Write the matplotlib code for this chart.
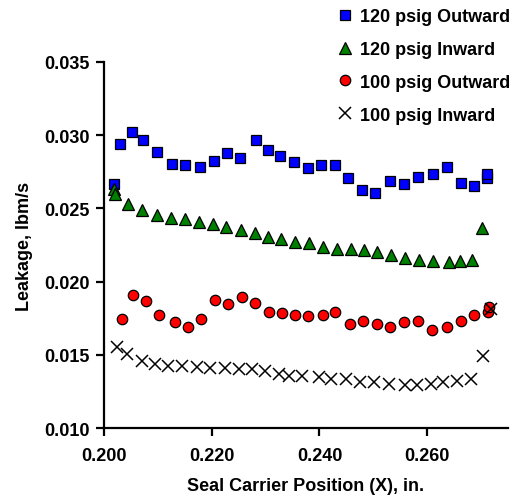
import numpy as np
import matplotlib
matplotlib.use("Agg")
import matplotlib.pyplot as plt

plt.rcParams['font.family'] = ['Liberation Sans', 'DejaVu Sans']
plt.rcParams['font.weight'] = 'bold'

#-------------------------------------------------#
#   data
#-------------------------------------------------#
x_out120 = [0.20192, 0.20303, 0.20527, 0.20720, 0.20980, 0.21260, 0.21501, 0.21773,
            0.22033, 0.22283, 0.22530, 0.22822, 0.23038, 0.23274, 0.23522, 0.23782,
            0.24032, 0.24285, 0.24534, 0.24781, 0.25029, 0.25308, 0.25563, 0.25836,
            0.26115, 0.26363, 0.26623, 0.26871, 0.27107, 0.27107]
y_out120 = [0.02666, 0.02939, 0.03023, 0.02969, 0.02887, 0.02805, 0.02794, 0.02784,
            0.02825, 0.02876, 0.02846, 0.02969, 0.02896, 0.02855, 0.02814, 0.02776,
            0.02796, 0.02796, 0.02705, 0.02625, 0.02603, 0.02685, 0.02666, 0.02712,
            0.02735, 0.02784, 0.02673, 0.02651, 0.02707, 0.02735]

x_in120 = [0.20177, 0.20205, 0.20452, 0.20713, 0.20986, 0.21241, 0.21507, 0.21767,
           0.22015, 0.22270, 0.22543, 0.22796, 0.23046, 0.23293, 0.23540, 0.23801,
           0.24069, 0.24329, 0.24577, 0.24824, 0.25073, 0.25327, 0.25581, 0.25847,
           0.26102, 0.26409, 0.26610, 0.26828, 0.27023]
y_in120 = [0.02632, 0.02598, 0.02530, 0.02489, 0.02455, 0.02437, 0.02426, 0.02407,
           0.02391, 0.02375, 0.02355, 0.02332, 0.02305, 0.02291, 0.02273, 0.02264,
           0.02235, 0.02223, 0.02223, 0.02213, 0.02200, 0.02182, 0.02163, 0.02150,
           0.02139, 0.02132, 0.02141, 0.02151, 0.02366]

x_out100 = [0.20340, 0.20534, 0.20776, 0.21029, 0.21327, 0.21563, 0.21810, 0.22060,
            0.22307, 0.22554, 0.22809, 0.23057, 0.23306, 0.23540, 0.23786, 0.24061,
            0.24285, 0.24562, 0.24813, 0.25060, 0.25315, 0.25567, 0.25838, 0.26097,
            0.26376, 0.26620, 0.26871, 0.27120, 0.27150]
y_out100 = [0.01743, 0.01909, 0.01866, 0.01775, 0.01725, 0.01691, 0.01743, 0.01875,
            0.01846, 0.01898, 0.01857, 0.01795, 0.01786, 0.01775, 0.01763, 0.01775,
            0.01795, 0.01713, 0.01733, 0.01713, 0.01692, 0.01724, 0.01733, 0.01672,
            0.01692, 0.01733, 0.01775, 0.01795, 0.01825]

x_in100 = [0.20236, 0.20434, 0.20701, 0.20949, 0.21196, 0.21457, 0.21725, 0.21972,
           0.22251, 0.22512, 0.22748, 0.22995, 0.23243, 0.23442, 0.23678, 0.23987,
           0.24205, 0.24484, 0.24750, 0.25010, 0.25289, 0.25581, 0.25818, 0.26078,
           0.26301, 0.26562, 0.26809, 0.27027, 0.27181]
y_in100 = [0.01557, 0.01505, 0.01459, 0.01439, 0.01427, 0.01427, 0.01418, 0.01413,
           0.01409, 0.01404, 0.01404, 0.01393, 0.01370, 0.01360, 0.01355, 0.01348,
           0.01336, 0.01336, 0.01318, 0.01314, 0.01300, 0.01293, 0.01293, 0.01300,
           0.01314, 0.01323, 0.01336, 0.01491, 0.01814]

labels = ['120 psig Outward', '120 psig Inward', '100 psig Outward', '100 psig Inward']
x_ticks = [0.200, 0.220, 0.240, 0.260]
y_ticks = [0.010, 0.015, 0.020, 0.025, 0.030, 0.035]

fig = plt.figure(figsize=(5.11, 5.02), dpi=100)
ax = fig.add_axes([104 / 511, 1 - 429.3 / 502, 404 / 511, 366.6 / 502])

ax.plot(x_out120, y_out120, 's', ms=7.5, mfc='#0000ff', mec='black', mew=0.9, label=labels[0])
ax.plot(x_in120, y_in120, '^', ms=8.6, mfc='#008000', mec='black', mew=0.9, label=labels[1])
ax.plot(x_out100, y_out100, 'o', ms=7.5, mfc='#ff0000', mec='black', mew=0.9, label=labels[2])
ax.plot(x_in100, y_in100, 'x', ms=9, mec='black', mew=1.1, label=labels[3])

ax.set_xlim(0.200, 0.275)
ax.set_ylim(0.010, 0.035)
ax.set_xticks(x_ticks)
ax.set_yticks(y_ticks)
ax.set_xticklabels(['%.3f' % v for v in x_ticks])
ax.set_yticklabels(['%.3f' % v for v in y_ticks])

for s in ['top', 'right']:
    ax.spines[s].set_visible(False)
for s in ['left', 'bottom']:
    ax.spines[s].set_linewidth(1.6)
ax.tick_params(direction='out', length=5.5, width=1.6, labelsize=13, pad=5)
ax.tick_params(axis='x', pad=8)

ax.set_xlabel('Seal Carrier Position (X), in.', fontsize=13, fontweight='bold', labelpad=9)
ax.set_ylabel('Leakage, lbm/s', fontsize=13, fontweight='bold', labelpad=8)

fig.legend(loc='upper right', bbox_to_anchor=(510 / 511, 1 - 9 / 502), frameon=False,
           fontsize=13, handlelength=0.8, handletextpad=0.4, labelspacing=0.88,
           borderpad=0, borderaxespad=0)

fig.savefig('out.png', dpi=100)
